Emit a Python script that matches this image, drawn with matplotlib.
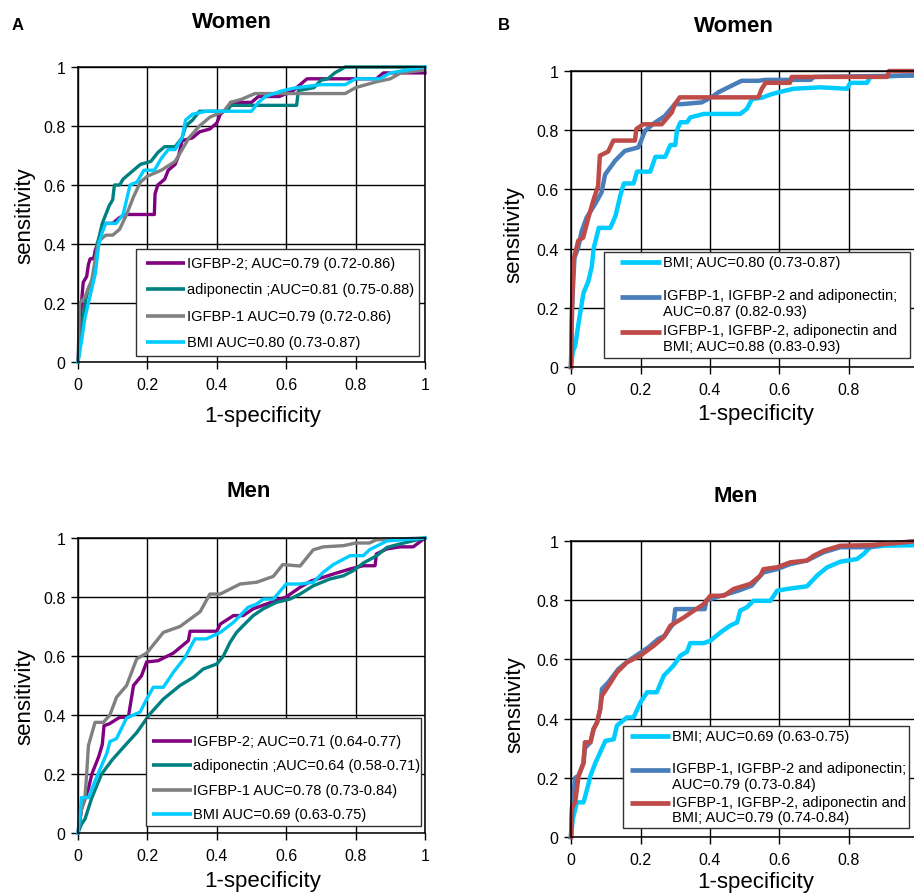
import matplotlib.pyplot as plt
from matplotlib.patches import Rectangle
from matplotlib.lines import Line2D

plt.rcParams['font.family'] = ['Liberation Sans', 'DejaVu Sans']

# ---- panel A, women ----
wA_igfbp2_x = [0, 0.005, 0.01, 0.015, 0.025, 0.03, 0.035, 0.045, 0.05, 0.06, 0.07, 0.08, 0.1, 0.12, 0.14, 0.22, 0.222, 0.23, 0.25, 0.26, 0.28, 0.29, 0.3, 0.33, 0.35, 0.38, 0.4, 0.41, 0.43, 0.44, 0.5, 0.52, 0.58, 0.62, 0.64, 0.66, 0.86, 0.88, 1.0]
wA_igfbp2_y = [0, 0.1, 0.2, 0.27, 0.29, 0.33, 0.35, 0.35, 0.38, 0.41, 0.45, 0.47, 0.47, 0.49, 0.5, 0.5, 0.57, 0.6, 0.62, 0.65, 0.67, 0.7, 0.75, 0.76, 0.78, 0.79, 0.81, 0.84, 0.86, 0.88, 0.88, 0.9, 0.9, 0.92, 0.94, 0.96, 0.96, 0.98, 0.98]
wA_adipo_x = [0, 0.01, 0.02, 0.03, 0.04, 0.05, 0.055, 0.06, 0.07, 0.08, 0.09, 0.1, 0.105, 0.12, 0.13, 0.15, 0.16, 0.18, 0.21, 0.23, 0.25, 0.28, 0.3, 0.31, 0.33, 0.35, 0.43, 0.44, 0.63, 0.635, 0.68, 0.7, 0.72, 0.74, 0.77, 1.0]
wA_adipo_y = [0, 0.1, 0.2, 0.25, 0.27, 0.33, 0.4, 0.42, 0.47, 0.5, 0.53, 0.55, 0.6, 0.6, 0.62, 0.64, 0.65, 0.67, 0.68, 0.71, 0.73, 0.73, 0.76, 0.8, 0.82, 0.85, 0.85, 0.87, 0.87, 0.92, 0.93, 0.955, 0.96, 0.98, 1.0, 1.0]
wA_igfbp1_x = [0, 0.005, 0.02, 0.04, 0.05, 0.06, 0.07, 0.08, 0.1, 0.12, 0.14, 0.16, 0.18, 0.2, 0.24, 0.28, 0.3, 0.32, 0.35, 0.38, 0.42, 0.44, 0.47, 0.51, 0.77, 0.8, 0.86, 0.9, 0.93, 1.0]
wA_igfbp1_y = [0, 0.2, 0.22, 0.28, 0.35, 0.41, 0.42, 0.43, 0.43, 0.45, 0.5, 0.56, 0.61, 0.63, 0.65, 0.68, 0.72, 0.76, 0.8, 0.83, 0.85, 0.88, 0.89, 0.91, 0.91, 0.93, 0.95, 0.96, 0.98, 0.99]
wA_bmi_x = [0, 0.01, 0.02, 0.03, 0.04, 0.05, 0.06, 0.07, 0.08, 0.11, 0.13, 0.14, 0.15, 0.17, 0.19, 0.22, 0.24, 0.26, 0.28, 0.3, 0.31, 0.33, 0.37, 0.5, 0.52, 0.54, 0.59, 0.63, 0.7, 0.77, 0.8, 0.87, 0.9, 0.95, 1.0]
wA_bmi_y = [0, 0.07, 0.15, 0.2, 0.25, 0.3, 0.4, 0.44, 0.47, 0.47, 0.5, 0.55, 0.6, 0.61, 0.65, 0.65, 0.69, 0.72, 0.72, 0.76, 0.82, 0.84, 0.85, 0.85, 0.88, 0.9, 0.92, 0.93, 0.94, 0.94, 0.96, 0.96, 0.98, 0.99, 1.0]

# ---- panel A, men ----
mA_igfbp2_x = [0, 0.01, 0.03, 0.04, 0.05, 0.06, 0.07, 0.075, 0.09, 0.12, 0.145, 0.16, 0.183, 0.198, 0.231, 0.275, 0.318, 0.323, 0.4, 0.41, 0.448, 0.476, 0.505, 0.543, 0.582, 0.6, 0.64, 0.673, 0.707, 0.736, 0.784, 0.822, 0.856, 0.86, 0.89, 0.928, 0.966, 1.0]
mA_igfbp2_y = [0, 0.08, 0.15, 0.2, 0.23, 0.26, 0.3, 0.364, 0.37, 0.392, 0.392, 0.5, 0.533, 0.58, 0.584, 0.61, 0.652, 0.684, 0.684, 0.708, 0.737, 0.737, 0.76, 0.776, 0.793, 0.8, 0.833, 0.855, 0.867, 0.878, 0.895, 0.906, 0.906, 0.946, 0.963, 0.97, 0.97, 1.0]
mA_adipo_x = [0, 0.01, 0.02, 0.04, 0.068, 0.1, 0.135, 0.169, 0.207, 0.246, 0.294, 0.333, 0.361, 0.4, 0.419, 0.438, 0.457, 0.476, 0.505, 0.534, 0.572, 0.611, 0.64, 0.678, 0.726, 0.765, 0.793, 0.822, 0.861, 0.89, 0.928, 1.0]
mA_adipo_y = [0, 0.03, 0.047, 0.12, 0.2, 0.25, 0.296, 0.34, 0.403, 0.454, 0.5, 0.528, 0.556, 0.573, 0.6, 0.646, 0.68, 0.703, 0.737, 0.76, 0.782, 0.793, 0.81, 0.838, 0.861, 0.872, 0.889, 0.915, 0.94, 0.968, 0.98, 1.0]
mA_igfbp1_x = [0, 0.01, 0.02, 0.025, 0.03, 0.049, 0.073, 0.092, 0.111, 0.14, 0.169, 0.198, 0.246, 0.294, 0.352, 0.38, 0.41, 0.467, 0.515, 0.563, 0.59, 0.64, 0.678, 0.707, 0.765, 0.8, 0.84, 0.86, 1.0]
mA_igfbp1_y = [0, 0.08, 0.12, 0.2, 0.296, 0.375, 0.375, 0.4, 0.46, 0.5, 0.59, 0.61, 0.68, 0.7, 0.75, 0.81, 0.81, 0.844, 0.85, 0.87, 0.91, 0.905, 0.96, 0.97, 0.974, 0.983, 0.983, 0.994, 1.0]
mA_bmi_x = [0, 0.01, 0.03, 0.054, 0.083, 0.092, 0.111, 0.14, 0.179, 0.198, 0.217, 0.246, 0.275, 0.308, 0.337, 0.37, 0.41, 0.448, 0.49, 0.515, 0.534, 0.563, 0.6, 0.64, 0.678, 0.707, 0.736, 0.784, 0.822, 0.84, 0.89, 1.0]
mA_bmi_y = [0, 0.12, 0.12, 0.19, 0.27, 0.31, 0.32, 0.39, 0.41, 0.454, 0.494, 0.494, 0.545, 0.595, 0.658, 0.658, 0.68, 0.714, 0.765, 0.776, 0.793, 0.793, 0.844, 0.844, 0.85, 0.884, 0.91, 0.94, 0.94, 0.96, 0.99, 1.0]

# ---- panel B, women ----
wB_bmi_x = [0, 0.005, 0.012, 0.022, 0.036, 0.05, 0.06, 0.065, 0.08, 0.113, 0.128, 0.142, 0.152, 0.18, 0.19, 0.228, 0.243, 0.271, 0.286, 0.3, 0.305, 0.315, 0.334, 0.343, 0.382, 0.487, 0.506, 0.521, 0.55, 0.578, 0.597, 0.64, 0.718, 0.794, 0.804, 0.852, 0.861, 1.0]
wB_bmi_y = [0, 0.05, 0.072, 0.15, 0.25, 0.29, 0.34, 0.4, 0.47, 0.47, 0.51, 0.58, 0.62, 0.62, 0.66, 0.66, 0.71, 0.71, 0.75, 0.75, 0.8, 0.827, 0.827, 0.843, 0.855, 0.855, 0.872, 0.905, 0.91, 0.922, 0.928, 0.94, 0.945, 0.94, 0.96, 0.96, 0.98, 0.986]
wB_combo3_x = [0, 0.003, 0.007, 0.01, 0.02, 0.031, 0.045, 0.069, 0.088, 0.098, 0.127, 0.155, 0.194, 0.213, 0.242, 0.27, 0.299, 0.318, 0.376, 0.404, 0.424, 0.453, 0.491, 0.539, 0.56, 0.689, 0.7, 1.0]
wB_combo3_y = [0, 0.2, 0.3, 0.37, 0.4, 0.46, 0.505, 0.55, 0.59, 0.65, 0.697, 0.73, 0.742, 0.798, 0.826, 0.848, 0.888, 0.888, 0.894, 0.911, 0.928, 0.945, 0.967, 0.967, 0.97, 0.97, 0.98, 0.985]
wB_combo4_x = [0, 0.003, 0.007, 0.021, 0.035, 0.049, 0.064, 0.078, 0.083, 0.107, 0.122, 0.184, 0.188, 0.208, 0.261, 0.29, 0.299, 0.313, 0.539, 0.549, 0.56, 0.63, 0.635, 0.91, 0.915, 1.0]
wB_combo4_y = [0, 0.2, 0.36, 0.427, 0.437, 0.5, 0.562, 0.612, 0.714, 0.728, 0.765, 0.765, 0.804, 0.82, 0.82, 0.86, 0.888, 0.911, 0.911, 0.94, 0.96, 0.96, 0.98, 0.98, 1.0, 1.0]

# ---- panel B, men ----
mB_bmi_x = [0, 0.005, 0.017, 0.036, 0.046, 0.056, 0.07, 0.084, 0.099, 0.123, 0.132, 0.161, 0.18, 0.2, 0.219, 0.247, 0.267, 0.295, 0.315, 0.334, 0.343, 0.382, 0.401, 0.43, 0.458, 0.478, 0.487, 0.506, 0.525, 0.574, 0.593, 0.622, 0.679, 0.708, 0.737, 0.775, 0.823, 0.842, 0.861, 0.9, 1.0]
mB_bmi_y = [0, 0.06, 0.117, 0.117, 0.16, 0.207, 0.25, 0.286, 0.325, 0.33, 0.376, 0.404, 0.404, 0.455, 0.489, 0.489, 0.545, 0.579, 0.613, 0.626, 0.655, 0.655, 0.663, 0.691, 0.714, 0.725, 0.765, 0.776, 0.798, 0.798, 0.832, 0.838, 0.847, 0.883, 0.911, 0.93, 0.939, 0.956, 0.979, 0.984, 0.986]
mB_combo3_x = [0, 0.003, 0.012, 0.022, 0.036, 0.04, 0.056, 0.065, 0.075, 0.084, 0.089, 0.107, 0.136, 0.165, 0.194, 0.223, 0.251, 0.27, 0.29, 0.295, 0.3, 0.385, 0.39, 0.433, 0.481, 0.52, 0.545, 0.554, 0.593, 0.631, 0.679, 0.698, 0.727, 0.775, 0.861, 0.9, 1.0]
mB_combo3_y = [0, 0.1, 0.2, 0.207, 0.25, 0.3, 0.32, 0.365, 0.387, 0.432, 0.5, 0.522, 0.567, 0.595, 0.618, 0.641, 0.669, 0.68, 0.714, 0.72, 0.77, 0.77, 0.8, 0.815, 0.832, 0.849, 0.883, 0.894, 0.905, 0.922, 0.934, 0.945, 0.962, 0.979, 0.979, 0.99, 1.0]
mB_combo4_x = [0, 0.003, 0.012, 0.022, 0.036, 0.04, 0.056, 0.065, 0.075, 0.084, 0.089, 0.113, 0.132, 0.161, 0.2, 0.238, 0.267, 0.286, 0.325, 0.382, 0.401, 0.44, 0.468, 0.516, 0.545, 0.554, 0.593, 0.631, 0.679, 0.698, 0.727, 0.775, 0.861, 0.9, 1.0]
mB_combo4_y = [0, 0.1, 0.117, 0.207, 0.25, 0.32, 0.32, 0.365, 0.387, 0.432, 0.477, 0.52, 0.556, 0.59, 0.613, 0.646, 0.675, 0.714, 0.742, 0.787, 0.815, 0.815, 0.838, 0.855, 0.883, 0.905, 0.911, 0.928, 0.934, 0.95, 0.967, 0.984, 0.986, 0.99, 1.0]

labels_A_women = ['IGFBP-2; AUC=0.79 (0.72-0.86)', 'adiponectin ;AUC=0.81 (0.75-0.88)',
                  'IGFBP-1 AUC=0.79 (0.72-0.86)', 'BMI AUC=0.80 (0.73-0.87)']
labels_A_men = ['IGFBP-2; AUC=0.71 (0.64-0.77)', 'adiponectin ;AUC=0.64 (0.58-0.71)',
                'IGFBP-1 AUC=0.78 (0.73-0.84)', 'BMI AUC=0.69 (0.63-0.75)']
labels_B_women = ['BMI; AUC=0.80 (0.73-0.87)',
                  'IGFBP-1, IGFBP-2 and adiponectin;\nAUC=0.87 (0.82-0.93)',
                  'IGFBP-1, IGFBP-2, adiponectin and\nBMI; AUC=0.88 (0.83-0.93)']
labels_B_men = ['BMI; AUC=0.69 (0.63-0.75)',
                'IGFBP-1, IGFBP-2 and adiponectin;\nAUC=0.79 (0.73-0.84)',
                'IGFBP-1, IGFBP-2, adiponectin and\nBMI; AUC=0.79 (0.74-0.84)']

tick_vals = [0, 0.2, 0.4, 0.6, 0.8, 1]
tick_text = ['0', '0.2', '0.4', '0.6', '0.8', '1']

colors_A = ['#800080', '#008080', '#808080', '#00CCFF']
colors_B = ['#00CCFF', '#4A7EBB', '#BE4B48']

W, H = 914, 895
fig = plt.figure(figsize=(W / 100, H / 100), dpi=100)


def px(x, y):
    return x / W, 1 - y / H


def make_axes(left, top, width, height, last_xlabel=True):
    ax = fig.add_axes([left / W, 1 - (top + height) / H, width / W, height / H])
    ax.set_xlim(0, 1)
    ax.set_ylim(0, 1)
    ax.set_xticks(tick_vals)
    ax.set_yticks(tick_vals)
    xl = list(tick_text)
    if not last_xlabel:
        xl[-1] = ''  # falls outside the picture in the right-hand panels
    ax.set_xticklabels(xl)
    ax.set_yticklabels(tick_text)
    ax.tick_params(direction='out', length=5, width=1, labelsize=11.5, colors='black', pad=4)
    ax.tick_params(axis='x', pad=6)
    ax.grid(True, color='black', linewidth=1.0)
    for s in ax.spines.values():
        s.set_color('black')
        s.set_linewidth(1.1)
    ax.set_axisbelow(True)
    return ax


def legend_box(x0, y0, x1, y1, handles_x, text_x, rows, colors, labels, lw):
    fig.add_artist(Rectangle(px(x0, y1), (x1 - x0) / W, (y1 - y0) / H,
                             transform=fig.transFigure, facecolor='white',
                             edgecolor='#333333', linewidth=1.0, zorder=5))
    for row, col, lab in zip(rows, colors, labels):
        a, b = px(handles_x[0], row)
        c, _ = px(handles_x[1], row)
        fig.add_artist(Line2D([a, c], [b, b], transform=fig.transFigure,
                              color=col, linewidth=lw, solid_capstyle='butt', zorder=6))
        tx, ty = px(text_x, row)
        if '\n' in lab:
            fig.text(tx, ty + 8.5 / H, lab, fontsize=10.5, va='top', ha='left',
                     linespacing=1.12, zorder=7)
        else:
            fig.text(tx, ty, lab, fontsize=10.5, va='center', ha='left', zorder=7)


# A women
ax1 = make_axes(78, 68, 347, 295)
for xs, ys, c in zip([wA_igfbp2_x, wA_adipo_x, wA_igfbp1_x, wA_bmi_x],
                     [wA_igfbp2_y, wA_adipo_y, wA_igfbp1_y, wA_bmi_y], colors_A):
    ax1.plot(xs, ys, color=c, linewidth=2.4, clip_on=False)

# B women
ax2 = make_axes(571, 72, 347.5, 296, last_xlabel=False)
for xs, ys, c in zip([wB_bmi_x, wB_combo3_x, wB_combo4_x],
                     [wB_bmi_y, wB_combo3_y, wB_combo4_y], colors_B):
    ax2.plot(xs, ys, color=c, linewidth=3.2, clip_on=False)

# A men
ax3 = make_axes(78, 539, 347, 295)
for xs, ys, c in zip([mA_igfbp2_x, mA_adipo_x, mA_igfbp1_x, mA_bmi_x],
                     [mA_igfbp2_y, mA_adipo_y, mA_igfbp1_y, mA_bmi_y], colors_A):
    ax3.plot(xs, ys, color=c, linewidth=2.4, clip_on=False)

# B men
ax4 = make_axes(571, 542, 347.5, 296, last_xlabel=False)
for xs, ys, c in zip([mB_bmi_x, mB_combo3_x, mB_combo4_x],
                     [mB_bmi_y, mB_combo3_y, mB_combo4_y], colors_B):
    ax4.plot(xs, ys, color=c, linewidth=3.2, clip_on=False)

legend_box(136, 250, 419, 357, (146, 185), 187, [264, 290, 317, 343], colors_A, labels_A_women, 2.6)
legend_box(146, 719, 421, 827, (152, 192), 193, [742, 766, 791, 815], colors_A, labels_A_men, 2.6)
legend_box(604, 253, 910, 359, (620, 661), 663, [263, 298, 333], colors_B, labels_B_women, 3.4)
legend_box(623, 727, 909, 829, (630, 670), 672, [737, 771, 804], colors_B, labels_B_men, 3.4)

# titles and panel letters
for x, y, t in [(232, 23, 'Women'), (734, 27, 'Women'), (249, 492, 'Men'), (736, 497, 'Men')]:
    fig.text(*px(x, y), t, fontsize=16, fontweight='bold', ha='center', va='center')
fig.text(*px(18, 26), 'A', fontsize=12, fontweight='bold', ha='center', va='center')
fig.text(*px(504, 26), 'B', fontsize=12, fontweight='bold', ha='center', va='center')

# axis labels
for x, y in [(25, 216), (514, 235), (25, 697), (515, 705)]:
    fig.text(*px(x, y), 'sensitivity', fontsize=16, rotation=90, ha='center', va='center')
for x, y in [(263, 417), (756, 415), (263, 882), (756, 883)]:
    fig.text(*px(x, y), '1-specificity', fontsize=16, ha='center', va='center')

plt.savefig('out.png', dpi=100)
plt.close()
